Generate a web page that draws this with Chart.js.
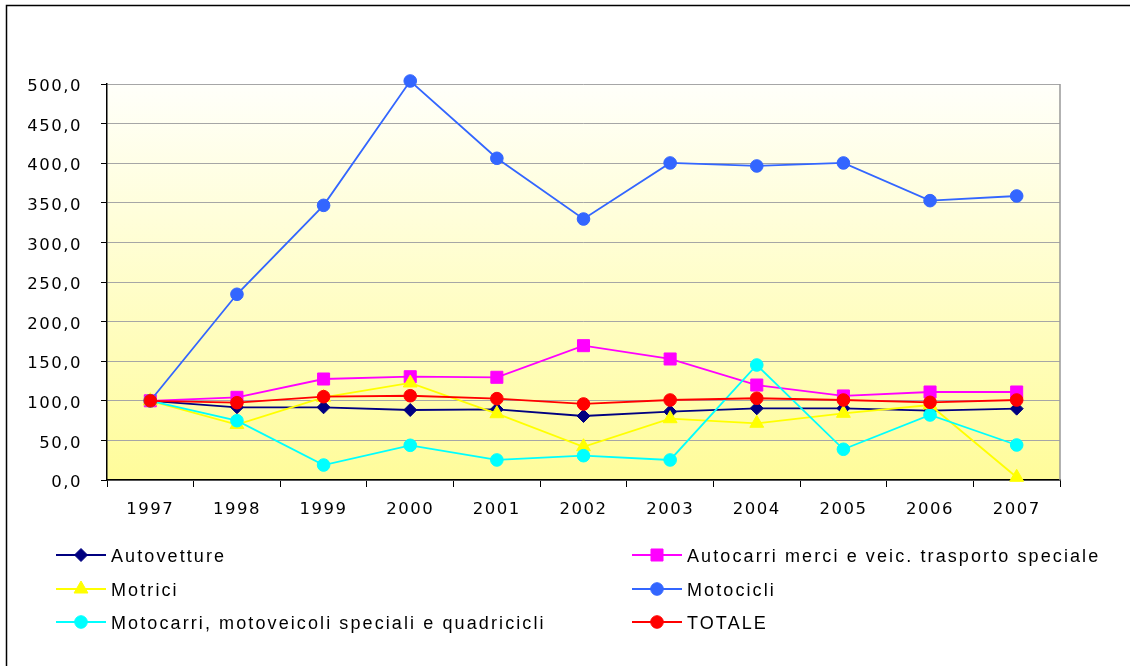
<!DOCTYPE html>
<html>
<head>
<meta charset="utf-8">
<script src="https://cdn.jsdelivr.net/npm/chart.js@4.4.0/dist/chart.umd.min.js"></script>
<style>
html,body{margin:0;padding:0;background:#fff;}
#wrap{width:1130px;height:666px;position:relative;}
</style>
</head>
<body>
<div id="wrap"><canvas id="c" width="1130" height="666"></canvas></div>
<script>
const categories = ['1997','1998','1999','2000','2001','2002','2003','2004','2005','2006','2007'];
const yTickLabels = ['0,0','50,0','100,0','150,0','200,0','250,0','300,0','350,0','400,0','450,0','500,0'];

const autovetture = [100, 91.8, 91.8, 88.4, 89.2, 80.8, 86.3, 90.5, 90.5, 87.5, 90.1];
const autocarri   = [100, 104.4, 127.5, 130.4, 129.7, 169.6, 152.8, 119.9, 106.1, 111.1, 111.1];
const motrici     = [100, 70, 104.4, 122.5, 83.7, 42, 77.4, 71.6, 84.2, 94.7, 3.4];
const motocicli   = [100, 234.5, 346.8, 503.8, 406.2, 329.5, 400.3, 396.5, 400.3, 352.7, 358.6];
const motocarri   = [100, 74.9, 18.9, 43.8, 25.3, 30.7, 25.3, 145.2, 38.8, 82.1, 44.2];
const totale      = [100, 97.6, 105.2, 106.4, 102.7, 96, 101, 103.2, 101, 98.1, 101];

const seriesNames = ['Autovetture','Autocarri merci e veic. trasporto speciale','Motrici','Motocicli','Motocarri, motoveicoli speciali e quadricicli','TOTALE'];

function mk(label, data, color, style, radius, order){
  return {label, data, borderColor:color, backgroundColor:color, pointBackgroundColor:color,
    pointBorderColor:color, pointStyle:style, pointRadius:radius, pointHoverRadius:radius,
    pointBorderWidth:1, borderWidth:1.8, tension:0, clip:false, order};
}

const datasets = [
  mk(seriesNames[0], autovetture, '#000080', 'rectRot', 6.5, 6),
  mk(seriesNames[1], autocarri, '#FF00FF', 'rect', 8.5, 5),
  mk(seriesNames[2], motrici, '#FFFF00', 'triangle', 8, 4),
  mk(seriesNames[3], motocicli, '#3366FF', 'circle', 6.3, 3),
  mk(seriesNames[4], motocarri, '#00FFFF', 'circle', 6.3, 2),
  mk(seriesNames[5], totale, '#FF0000', 'circle', 6.3, 1)
];

const framePlugin = {
  id:'frame',
  beforeLayout(chart){ chart.ctx.letterSpacing = '1.5px'; },
  beforeDraw(chart){
    const ctx = chart.ctx, a = chart.chartArea;
    ctx.letterSpacing = '1.5px';
    ctx.save();
    const g = ctx.createLinearGradient(0, a.top, 0, a.bottom);
    g.addColorStop(0, '#FFFFFA');
    g.addColorStop(1, '#FFFC9A');
    ctx.fillStyle = g;
    ctx.fillRect(a.left, a.top, a.right - a.left, a.bottom - a.top);
    ctx.restore();
  },
  beforeDatasetsDraw(chart){
    const ctx = chart.ctx, a = chart.chartArea;
    ctx.save();
    ctx.strokeStyle = '#999999';
    ctx.lineWidth = 1.5;
    ctx.beginPath();
    ctx.moveTo(a.right, a.top);
    ctx.lineTo(a.right, a.bottom);
    ctx.stroke();
    ctx.restore();
  },
  afterDraw(chart){
    const ctx = chart.ctx;
    ctx.save();
    ctx.strokeStyle = '#000';
    ctx.lineWidth = 1.5;
    ctx.beginPath();
    ctx.moveTo(1130, 5.5);
    ctx.lineTo(6.5, 5.5);
    ctx.lineTo(6.5, 666);
    ctx.stroke();
    const cols = [56, 632];
    const rows = [555, 589, 622];
    chart.data.datasets.forEach((ds, i) => {
      const x0 = cols[i % 2], y = rows[Math.floor(i / 2)];
      ctx.strokeStyle = ds.borderColor;
      ctx.lineWidth = 1.8;
      ctx.beginPath();
      ctx.moveTo(x0, y);
      ctx.lineTo(x0 + 50, y);
      ctx.stroke();
      ctx.fillStyle = ds.pointBackgroundColor;
      ctx.strokeStyle = ds.pointBorderColor;
      ctx.lineWidth = 1;
      Chart.helpers.drawPoint(ctx, {pointStyle: ds.pointStyle, radius: ds.pointRadius, borderWidth: 1, rotation: 0}, x0 + 25, y);
      ctx.fillStyle = '#000';
      ctx.font = '18px "Liberation Sans"';
      ctx.letterSpacing = '2.1px';
      ctx.textAlign = 'left';
      ctx.textBaseline = 'alphabetic';
      ctx.fillText(ds.label, x0 + 55, y + 6.5);
    });
    ctx.restore();
  }
};

const tickFont = {family:'"DejaVu Sans", Verdana, sans-serif', size:16.5};

new Chart(document.getElementById('c'), {
  type:'line',
  data:{labels:categories, datasets},
  plugins:[framePlugin],
  options:{
    responsive:false,
    animation:false,
    events:[],
    layout:{padding:{top:84, right:70, bottom:0, left:0}},
    plugins:{legend:{display:false}, tooltip:{enabled:false}, title:{display:false}},
    scales:{
      x:{
        offset:true,
        grid:{offset:true, drawOnChartArea:false, tickLength:7, tickColor:'#000', color:'#000', lineWidth:1},
        border:{color:'#000', width:1.5},
        ticks:{color:'#000', font:tickFont, padding:13, maxRotation:0, autoSkip:false},
        afterFit(s){ s.height = 186; }
      },
      y:{
        min:0, max:500,
        ticks:{stepSize:50, color:'#000', font:tickFont, padding:19, labelOffset:3,
          callback:(v, i) => yTickLabels[i]},
        grid:{color:'#A6A6A6', tickColor:'#000', tickLength:6, lineWidth:1},
        border:{color:'#000', width:1.5},
        afterFit(s){ s.width = 107; }
      }
    }
  }
});
</script>
</body>
</html>
